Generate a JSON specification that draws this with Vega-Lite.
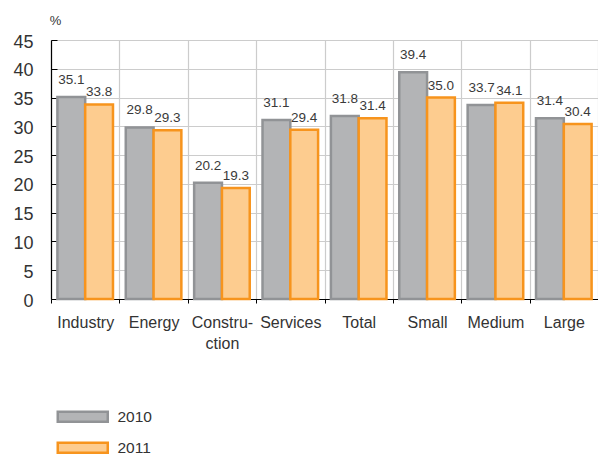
{
  "$schema": "https://vega.github.io/schema/vega-lite/v6.json",
  "autosize": {"type": "none"},
  "padding": {"left": 51, "top": 40, "right": 0, "bottom": 155},
  "width": 547,
  "height": 259,
  "background": "white",
  "config": {
    "font": "Liberation Sans",
    "view": {"stroke": null},
    "axis": {"labelColor": "#333333", "titleColor": "#333333"}
  },
  "data": {
    "values": [
      {"sector": "Industry", "year": "2010", "share": 35.1},
      {"sector": "Industry", "year": "2011", "share": 33.8},
      {"sector": "Energy", "year": "2010", "share": 29.8},
      {"sector": "Energy", "year": "2011", "share": 29.3},
      {"sector": "Construction", "year": "2010", "share": 20.2},
      {"sector": "Construction", "year": "2011", "share": 19.3},
      {"sector": "Services", "year": "2010", "share": 31.1},
      {"sector": "Services", "year": "2011", "share": 29.4},
      {"sector": "Total", "year": "2010", "share": 31.8},
      {"sector": "Total", "year": "2011", "share": 31.4},
      {"sector": "Small", "year": "2010", "share": 39.4},
      {"sector": "Small", "year": "2011", "share": 35.0},
      {"sector": "Medium", "year": "2010", "share": 33.7},
      {"sector": "Medium", "year": "2011", "share": 34.1},
      {"sector": "Large", "year": "2010", "share": 31.4},
      {"sector": "Large", "year": "2011", "share": 30.4}
    ]
  },
  "encoding": {
    "x": {
      "field": "sector",
      "type": "nominal",
      "sort": null,
      "scale": {"paddingInner": 0, "paddingOuter": 0},
      "axis": {
        "title": null,
        "labelAngle": 0,
        "labelFontSize": 16,
        "labelPadding": 11,
        "labelLineHeight": 21,
        "labelExpr": "datum.label == 'Construction' ? ['Constru-', 'ction'] : datum.label",
        "tickBand": "extent",
        "tickSize": 4,
        "tickColor": "#000000",
        "domainColor": "#000000",
        "domainWidth": 1.2,
        "grid": true,
        "gridColor": "#cccccc",
        "gridWidth": 1.2,
        "zindex": 0
      }
    },
    "xOffset": {
      "field": "year",
      "type": "nominal",
      "scale": {"paddingInner": 0, "paddingOuter": 0.23}
    },
    "y": {
      "field": "share",
      "type": "quantitative",
      "scale": {"domain": [0, 45], "nice": false},
      "axis": {
        "values": [0, 5, 10, 15, 20, 25, 30, 35, 40, 45],
        "title": "%",
        "titleAngle": 0,
        "titleFontSize": 13,
        "titleFontWeight": "normal",
        "titleX": 4,
        "titleY": -20,
        "titleAlign": "center",
        "titleBaseline": "middle",
        "labelFontSize": 18,
        "labelPadding": 24,
        "labelOffset": 2,
        "labelOverlap": false,
        "tickSize": -6,
        "tickColor": "#000000",
        "domainColor": "#000000",
        "domainWidth": 1.2,
        "gridColor": "#cccccc",
        "gridWidth": 1.2,
        "zindex": 0
      }
    }
  },
  "layer": [
    {
      "mark": {"type": "bar", "strokeWidth": 2.5},
      "encoding": {
        "fill": {
          "field": "year",
          "type": "nominal",
          "scale": {"range": ["#b3b4b6", "#fdcc8f"]},
          "legend": {
            "orient": "none",
            "legendX": 24,
            "legendY": 369,
            "direction": "vertical",
            "title": null,
            "symbolType": "M-5,-1H5V1H-5Z",
            "symbolSize": 100,
            "symbolStrokeWidth": 2.5,
            "labelFontSize": 15.5,
            "labelColor": "#333333",
            "labelOffset": 27,
            "rowPadding": 10
          }
        },
        "stroke": {
          "field": "year",
          "type": "nominal",
          "scale": {"range": ["#919396", "#f7941d"]},
          "legend": null
        }
      }
    },
    {
      "transform": [{"filter": "datum.year == '2010'"}],
      "mark": {"type": "text", "baseline": "alphabetic", "dy": -13, "fontSize": 13.5, "color": "#3a3a3a"},
      "encoding": {
        "text": {"field": "share", "type": "quantitative", "format": ".1f"}
      }
    },
    {
      "transform": [{"filter": "datum.year == '2011'"}],
      "mark": {"type": "text", "baseline": "alphabetic", "dy": -8, "fontSize": 13.5, "color": "#3a3a3a"},
      "encoding": {
        "text": {"field": "share", "type": "quantitative", "format": ".1f"}
      }
    }
  ]
}
